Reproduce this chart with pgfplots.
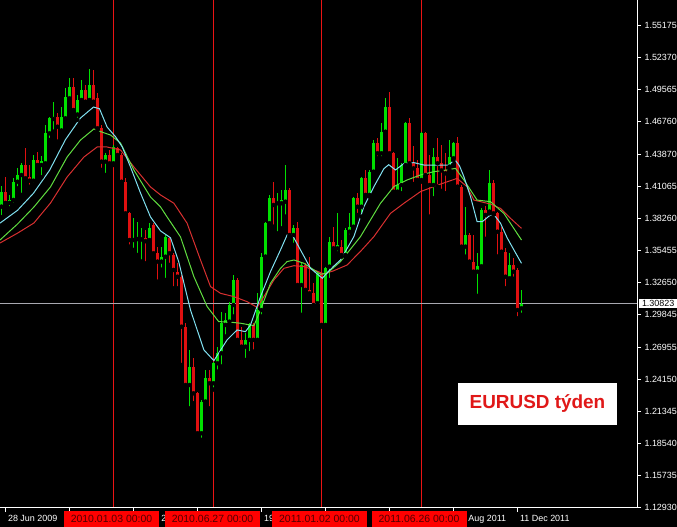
\documentclass[border=0pt]{standalone}
\usepackage{pgfplots}
\pgfplotsset{compat=1.18}
\usepackage{pgfplotstable}
\usepackage{fontspec}
\setmainfont{Liberation Sans}

\definecolor{bull}{HTML}{00E000}
\definecolor{bear}{HTML}{E01010}
\definecolor{mafast}{HTML}{80E0F0}
\definecolor{mamid}{HTML}{60DD40}
\definecolor{maslow}{HTML}{D83030}
\definecolor{periodred}{RGB}{235,20,20}
\definecolor{pricegray}{HTML}{A8A8B0}
\definecolor{boxred}{HTML}{FF0000}
\definecolor{boxtext}{HTML}{500000}
\definecolor{labred}{HTML}{E01818}

% weekly candles, w = weeks from 2010.01.03
\pgfplotstableread{
w O H L C
-28 1.3933 1.4110 1.3840 1.4064
-26 1.3965 1.4035 1.3918 1.3991
-25 1.3991 1.4181 1.3950 1.4151
-24 1.4151 1.4268 1.4093 1.4210
-23 1.4210 1.4312 1.4035 1.4297
-20 1.4160 1.4385 1.4122 1.4341
-18 1.4297 1.4380 1.4190 1.4330
-17 1.4312 1.4648 1.4297 1.4575
-16 1.4575 1.4721 1.4516 1.4706
-15 1.4700 1.4852 1.4589 1.4720
-13 1.4600 1.4808 1.4575 1.4721
-12 1.4706 1.4969 1.4677 1.4896
-11 1.4881 1.5057 1.4867 1.4984
-9 1.4740 1.4911 1.4692 1.4867
-8 1.4867 1.5042 1.4838 1.4954
-6 1.4867 1.5138 1.4852 1.4998
-2 1.4327 1.4400 1.4210 1.4385
0 1.4312 1.4473 1.4297 1.4458
5 1.3640 1.3830 1.3553 1.3652
6 1.3648 1.3801 1.3509 1.3660
7 1.3645 1.3743 1.3451 1.3657
9 1.3640 1.3786 1.3626 1.3743
12 1.3451 1.3580 1.3380 1.3494
13 1.3494 1.3684 1.3290 1.3670
19 1.2370 1.2677 1.2166 1.2531
22 1.1947 1.2239 1.1889 1.2225
23 1.2225 1.2502 1.2210 1.2429
25 1.2385 1.2575 1.2330 1.2560
26 1.2560 1.2706 1.2487 1.2648
27 1.2648 1.3013 1.2531 1.2911
28 1.2896 1.2998 1.2794 1.2940
29 1.2925 1.3100 1.2896 1.3071
30 1.3071 1.3334 1.2969 1.3290
33 1.2706 1.2823 1.2589 1.2765
34 1.2765 1.2911 1.2648 1.2896
36 1.2765 1.3173 1.2735 1.3027
37 1.3027 1.3524 1.2969 1.3495
38 1.3495 1.3801 1.3480 1.3787
39 1.3787 1.4035 1.3757 1.4006
41 1.3962 1.4049 1.3699 1.3976
42 1.3962 1.4079 1.3743 1.3991
43 1.3976 1.4298 1.3845 1.4079
45 1.3684 1.3772 1.3597 1.3743
47 1.3246 1.3436 1.2984 1.3422
51 1.3086 1.3363 1.3057 1.3349
53 1.2896 1.3407 1.2881 1.3392
54 1.3407 1.3670 1.3290 1.3626
56 1.3567 1.3874 1.3524 1.3595
58 1.3509 1.3743 1.3494 1.3728
59 1.3713 1.3874 1.3670 1.3757
60 1.3757 1.4020 1.3743 1.4005
62 1.3932 1.4195 1.3845 1.4181
64 1.4035 1.4254 1.4020 1.4239
65 1.4239 1.4516 1.4224 1.4487
67 1.4400 1.4662 1.4356 1.4589
68 1.4589 1.4881 1.4575 1.4808
71 1.4064 1.4356 1.4035 1.4122
72 1.4122 1.4312 1.4049 1.4297
73 1.4297 1.4677 1.4283 1.4662
77 1.4166 1.4589 1.4151 1.4575
80 1.4122 1.4443 1.4005 1.4370
84 1.4283 1.4516 1.4254 1.4370
85 1.4356 1.4502 1.4341 1.4487
88 1.3582 1.3932 1.3494 1.3684
91 1.3363 1.3530 1.3150 1.3410
92 1.3410 1.3918 1.3392 1.3903
94 1.3889 1.4254 1.3874 1.4137
99 1.3305 1.3524 1.3276 1.3422
102 1.3042 1.3203 1.2984 1.3082
}\bulltab

\pgfplotstableread{
w O H L C
-27 1.4064 1.4195 1.3947 1.3965
-22 1.4297 1.4443 1.4166 1.4181
-21 1.4195 1.4297 1.4107 1.4160
-19 1.4341 1.4414 1.4283 1.4297
-14 1.4721 1.4750 1.4502 1.4633
-10 1.4984 1.5060 1.4765 1.4779
-7 1.4954 1.4998 1.4823 1.4852
-5 1.4998 1.5130 1.4838 1.4852
-4 1.4880 1.4925 1.4604 1.4619
-3 1.4619 1.4648 1.4254 1.4327
-1 1.4385 1.4429 1.4297 1.4312
1 1.4443 1.4458 1.4370 1.4385
2 1.4385 1.4400 1.4137 1.4151
3 1.4151 1.4181 1.3859 1.3874
4 1.3874 1.3889 1.3582 1.3640
8 1.3660 1.3728 1.3436 1.3630
10 1.3772 1.3786 1.3509 1.3524
11 1.3524 1.3582 1.3275 1.3451
14 1.3655 1.3670 1.3422 1.3524
15 1.3510 1.3524 1.3217 1.3378
16 1.3363 1.3436 1.3217 1.3319
17 1.3319 1.3334 1.2545 1.2881
18 1.2881 1.2911 1.2356 1.2370
20 1.2531 1.2604 1.2210 1.2297
21 1.2297 1.2312 1.1933 1.1947
24 1.2429 1.2502 1.2166 1.2385
31 1.3290 1.3305 1.2735 1.2765
32 1.2765 1.2881 1.2677 1.2706
35 1.2896 1.2911 1.2662 1.2765
40 1.4006 1.4152 1.3757 1.3947
44 1.4079 1.4093 1.3670 1.3684
46 1.3743 1.3801 1.3232 1.3246
48 1.3422 1.3436 1.3188 1.3203
49 1.3203 1.3495 1.3159 1.3173
50 1.3173 1.3261 1.3057 1.3071
52 1.3349 1.3363 1.2881 1.2896
55 1.3626 1.3757 1.3553 1.3567
57 1.3582 1.3640 1.3494 1.3509
61 1.4005 1.4049 1.3859 1.3932
63 1.4181 1.4254 1.4020 1.4035
66 1.4487 1.4531 1.4356 1.4400
69 1.4808 1.4940 1.4385 1.4400
70 1.4400 1.4414 1.4049 1.4064
74 1.4662 1.4706 1.4297 1.4312
75 1.4312 1.4460 1.4130 1.4268
76 1.4268 1.4341 1.4150 1.4166
78 1.4575 1.4589 1.4195 1.4210
79 1.4210 1.4385 1.3845 1.4122
81 1.4370 1.4531 1.4108 1.4312
82 1.4312 1.4473 1.4070 1.4250
83 1.4250 1.4400 1.4050 1.4224
86 1.4487 1.4546 1.4093 1.4108
87 1.4108 1.4122 1.3567 1.3582
89 1.3684 1.3699 1.3436 1.3451
90 1.3451 1.3684 1.3348 1.3363
93 1.3903 1.3935 1.3650 1.3860
95 1.4137 1.4166 1.3860 1.3874
96 1.3874 1.3889 1.3495 1.3713
97 1.3713 1.3757 1.3524 1.3538
98 1.3538 1.3567 1.3217 1.3319
100 1.3422 1.3480 1.3300 1.3363
101 1.3378 1.3392 1.2954 1.3027
}\beartab

\pgfplotsset{
  candle/.style 2 args={only marks, mark=none, forget plot,
    error bars/.cd, y dir=plus, y explicit, error mark=none,
    error bar style={draw=#1, line width=#2}},
}

\begin{document}
\begin{tikzpicture}
\path[use as bounding box] (0,0) rectangle (677bp,527bp);
\fill[black] (0,0) rectangle (677bp,527bp);

% period separators (weeks 0, 25, 52, 77 of the axis below)
\foreach \sx in {113.5,213.5,321.5,421.5}
  \fill[periodred] (\sx bp-0.6bp,19bp) rectangle (\sx bp+0.6bp,527bp);

\begin{axis}[
  at={(0bp,19bp)}, anchor=south west,
  scale only axis, width=637bp, height=508bp,
  % limits shifted by half a pixel so 1bp lines and 3bp bodies sit on whole pixels
  xmin=-28.375, xmax=130.875, ymin=1.1292, ymax=1.5743,
  axis line style={draw=none},
  xtick={-27,-11,5,21,37,53,69,85,101},
  % only the parts of the date labels that the period tags leave visible
  xticklabels={28 Jun 2009, {}, \hphantom{7 Feb }2, {}, 19, {}, {},
    \hphantom{21 }Aug 2011, 11 Dec 2011},
  ytick={1.12930,1.15735,1.18540,1.21345,1.24150,1.26955,1.29845,1.32650,
    1.35455,1.38260,1.41065,1.43870,1.46760,1.49565,1.52370,1.55175},
  yticklabels={1.12930,1.15735,1.18540,1.21345,1.24150,1.26955,1.29845,1.32650,
    1.35455,1.38260,1.41065,1.43870,1.46760,1.49565,1.52370,1.55175},
  xtick pos=left, ytick pos=right,
  xticklabel pos=left, yticklabel pos=right,
  tick align=outside, major tick length=4bp,
  tick style={draw=white, line width=1bp},
  tick label style={text=white, font=\fontsize{9}{10}\selectfont},
  xticklabel style={anchor=north west, xshift=-1bp},
  yticklabel style={anchor=west},
]
% current price line
\addplot[pricegray, line width=1bp, forget plot] coordinates {(-28.375,1.30823) (130.875,1.30823)};

% wicks
\addplot[candle={bull}{1bp}] table[x=w, y=L, y error expr=\thisrow{H}-\thisrow{L}] {\bulltab};
\addplot[candle={bear}{1bp}] table[x=w, y=L, y error expr=\thisrow{H}-\thisrow{L}] {\beartab};
% bodies
\addplot[candle={bull}{3bp}] table[x=w, y=O, y error expr=\thisrow{C}-\thisrow{O}] {\bulltab};
\addplot[candle={bear}{3bp}] table[x=w, y=C, y error expr=\thisrow{O}-\thisrow{C}] {\beartab};

% moving averages
\addplot[maslow, line width=1bp] coordinates {
(-28.375,1.3614) (-24,1.3700) (-19.9,1.3789) (-15.75,1.3964) (-11.6,1.4192)
(-7.4,1.4367) (-4.1,1.4455) (-1.6,1.4455) (1.75,1.4429) (5.1,1.4280)
(9.25,1.4105) (11.75,1.4035) (15.1,1.3962) (18.4,1.3787) (21.75,1.3465)
(24.25,1.3232) (26.75,1.3173) (30.1,1.3144) (33.4,1.3100) (35.9,1.3050)
(37.6,1.3144) (40.1,1.3290) (42.6,1.3392) (45.1,1.3415) (47.6,1.3407)
(50.1,1.3378) (52.6,1.3343) (55,1.3370) (58.4,1.3421) (62,1.3550)
(65.1,1.3670) (69.25,1.3874) (72.6,1.3962) (76.75,1.4064) (81.75,1.4130)
(85.9,1.4180) (88.4,1.4107) (90.1,1.3990) (94.25,1.3955) (96.75,1.3917)
(99.25,1.3830) (102,1.3742)};
\addplot[mamid, line width=1bp] coordinates {
(-28.375,1.3640) (-24,1.3780) (-19.9,1.3929) (-15.75,1.4105) (-11.6,1.4367)
(-8.25,1.4516) (-4.9,1.4613) (-3.25,1.4590) (-0.75,1.4560) (1.75,1.4490)
(5.1,1.4253) (9.25,1.4017) (11.75,1.3930) (13.4,1.3842) (16.75,1.3667)
(20.1,1.3319) (23.4,1.3057) (26.3,1.2925) (29.25,1.2920) (31.75,1.2911)
(35.1,1.2890) (36.75,1.3027) (39.25,1.3261) (41.75,1.3392) (43.4,1.3451)
(45.1,1.3465) (47.6,1.3436) (50.1,1.3378) (51.75,1.3340) (53.4,1.3349)
(56.75,1.3451) (61.75,1.3670) (66.75,1.3962) (70.1,1.4108) (73.4,1.4166)
(76.75,1.4210) (80.1,1.4239) (83.4,1.4254) (85.5,1.4268) (87.6,1.4166)
(90.9,1.3990) (94.25,1.3976) (97.6,1.3873) (100.9,1.3698) (102,1.3640)};
\addplot[mafast, line width=1bp] coordinates {
(-28.375,1.3788) (-24,1.3900) (-20,1.4050) (-16,1.4250) (-12,1.4520)
(-8.25,1.4709) (-5,1.4805) (-3.5,1.4790) (-1.6,1.4630) (0.5,1.4545)
(2.2,1.4455) (4.25,1.4280) (6.75,1.4052) (9.25,1.3842) (11.75,1.3720)
(14.25,1.3660) (16.3,1.3450) (19.25,1.3027) (22.6,1.2677) (25.1,1.2583)
(28.4,1.2765) (30.9,1.2852) (33,1.2837) (34.25,1.2896) (36.75,1.3144)
(39.25,1.3363) (41.75,1.3553) (43.4,1.3684) (44.7,1.3684) (46.75,1.3553)
(49.25,1.3392) (52.2,1.3305) (54.25,1.3385) (56.75,1.3465) (60.1,1.3670)
(62.6,1.3932) (65.1,1.4108) (67.6,1.4265) (68.8,1.4300) (70.5,1.4254)
(72.6,1.4310) (75.1,1.4318) (77.6,1.4297) (80.1,1.4297) (83.8,1.4297)
(85.3,1.4345) (86.5,1.4290) (87.6,1.4195) (89.25,1.4020) (90.9,1.3801)
(92.2,1.3801) (94.25,1.3860) (95.5,1.3845) (96.75,1.3787) (98.4,1.3660)
(100.1,1.3553) (102,1.3436)};
\end{axis}

% axis lines (right and bottom only)
\draw[white, line width=1bp] (0,19bp) -- (637.5bp,19bp) -- (637.5bp,527bp);

% current price tag
\node[fill=white, text=black, font=\fontsize{9}{9}\selectfont, inner sep=0pt,
  minimum width=38bp, minimum height=9bp, anchor=west] at (639bp,223.5bp) {1.30823};

% period separator tags
\foreach \cx/\lab in {111.5/2010.01.03 00:00, 212.5/2010.06.27 00:00,
    319.5/2011.01.02 00:00, 419/2011.06.26 00:00}
  \node[fill=boxred, text=boxtext, font=\fontsize{10.5}{11}\selectfont,
    minimum width=95bp, minimum height=16bp, inner sep=0pt] at (\cx bp,8bp) {\lab};

% caption box
\node[fill=white, text=labred, font=\bfseries\fontsize{19}{19}\selectfont,
  minimum width=159bp, minimum height=42bp, inner sep=0pt] at (537.5bp,123bp) {EURUSD týden};
\end{tikzpicture}
\end{document}
